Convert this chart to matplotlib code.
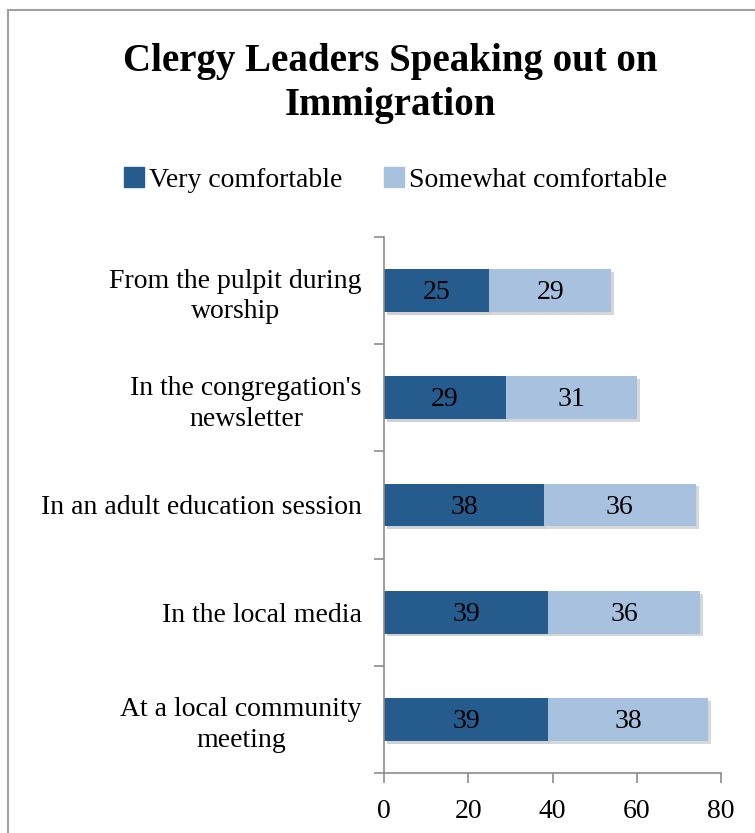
import matplotlib
matplotlib.use("Agg")
import matplotlib.pyplot as plt
import matplotlib.patheffects as pe
from matplotlib.patches import Rectangle, Patch
import numpy as np

plt.rcParams['font.family'] = ['Liberation Serif', 'DejaVu Serif']

# Data
categories = [
    "From the pulpit during\nworship",
    "In the congregation's\nnewsletter",
    "In an adult education session",
    "In the local media",
    "At a local community\nmeeting",
]
very = [25, 29, 38, 39, 39]
somewhat = [29, 31, 36, 36, 38]
series_names = ["Very comfortable", "Somewhat comfortable"]
xticks = [0, 20, 40, 60, 80]

DARK = "#265b8e"
LIGHT = "#a7c1df"
GREY = "#8c8c8c"
FS = 20

W, H = 755, 833
fig = plt.figure(figsize=(W / 100, H / 100), dpi=100)

# outer chart frame (runs off the right and bottom edge)
fig.patches.append(Rectangle((8 / W, -0.05), 1.2, 1 - 10 / H + 0.05,
                             transform=fig.transFigure, fill=False,
                             edgecolor="#a0a0a0", linewidth=1.5))

ax = fig.add_axes([384 / W, 1 - 773 / H, (721 - 384) / W, (773 - 237) / H])

y = np.arange(len(categories))
shadow = [pe.SimplePatchShadow(offset=(2, -2), alpha=0.2), pe.Normal()]
b1 = ax.barh(y, very, height=0.4, color=DARK)
b2 = ax.barh(y, somewhat, left=very, height=0.4, color=LIGHT)
for b in list(b1) + list(b2):
    b.set_path_effects(shadow)

for i in range(len(categories)):
    ax.text(very[i] / 2, y[i] + 0.02, str(very[i]), ha="center", va="center",
            fontsize=FS, color="black")
    ax.text(very[i] + somewhat[i] / 2, y[i] + 0.02, str(somewhat[i]),
            ha="center", va="center", fontsize=FS, color="black")

ax.set_xlim(0, 80)
ax.set_ylim(len(categories) - 0.5, -0.5)
ax.set_xticks(xticks)
ax.set_xticklabels([str(t) for t in xticks], fontsize=FS)
ax.set_yticks(np.arange(len(categories) + 1) - 0.5, minor=True)
ax.set_yticks(y)
ax.set_yticklabels(categories, fontsize=FS, multialignment="center",
                   linespacing=1.3)
ax.tick_params(axis="y", which="major", length=0, pad=16)
ax.tick_params(axis="y", which="minor", length=7, width=1.2, color=GREY)
ax.tick_params(axis="x", length=7, width=1.2, color=GREY, pad=12)

for side in ["top", "right"]:
    ax.spines[side].set_visible(False)
for side in ["left", "bottom"]:
    ax.spines[side].set_color(GREY)
    ax.spines[side].set_linewidth(1.2)

fig.text(390 / W, 1 - 84 / H, "Clergy Leaders Speaking out on\nImmigration",
         ha="center", va="center", fontsize=28, fontweight="bold",
         linespacing=1.25)

handles = [Patch(color=DARK), Patch(color=LIGHT)]
fig.legend(handles=handles, labels=series_names, loc="center",
           bbox_to_anchor=(396 / W, 1 - 180 / H), ncol=2, frameon=False,
           fontsize=FS, handlelength=0.7, handleheight=0.7,
           handletextpad=0.2, columnspacing=1.5)

fig.savefig("out.png", dpi=100)
